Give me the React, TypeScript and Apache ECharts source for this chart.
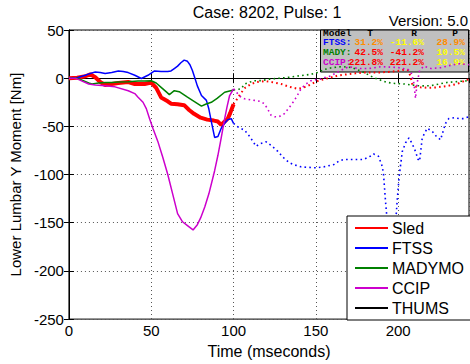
import React, { useEffect, useRef } from 'react';
import * as echarts from 'echarts';

// ---------- data ----------
const legendNames = ['Sled', 'FTSS', 'MADYMO', 'CCIP', 'THUMS'];

const sledT = [0, 5, 10, 13, 16, 19, 22, 26, 30, 36, 40, 46, 50, 53, 56, 60, 62, 66, 70, 73, 76, 80, 84, 88, 90.5, 92.5, 94, 96.5, 98, 100];
const sledV = [0, 0.5, 2, 4, 1, -4, -7, -6, -5, -4, -6, -6, -4.5, -10, -20, -24, -26.5, -27, -28, -33, -37, -41, -43, -44, -45, -48.5, -46, -42, -36, -27];
const sledExtT = [100, 102, 104.7, 107, 110.7, 114, 118.8, 123, 128.9, 134, 139, 142, 145, 151, 155, 159, 164, 169, 174, 179, 184, 189, 194, 199.5, 204, 206, 207.5, 208.5, 211, 213.5, 218, 223.7, 230, 235.7, 240, 243];
const sledExtV = [-27, -22, -15, -10, -6, -4, -3, -4, -6, -9, -11, -10, -8, -3, -1, 0.7, 3, 4, 5, 6, 6, 6, 6.5, 7.5, 9, 8, 2, -6, -9, -9.5, -10, -9.5, -8, -6, -3, -1];

const ftssT = [0, 5, 10, 13, 16, 19, 22, 26, 30, 33, 36, 40, 44, 48, 52, 56, 60, 62, 64, 66, 68, 70, 72, 73.5, 75, 76.4, 78, 80.5, 83.5, 85, 86.5, 88.5, 90.5, 92.5, 94.5, 96.6, 98.6, 100];
const ftssV = [0, 0.5, 3, 5, 6.4, 6, 4.8, 6, 7.5, 7, 5.8, 3, -0.3, 3, 7.5, 7, 7, 7.5, 10, 12.5, 16, 18.7, 17.5, 14, 8, 0.7, -8, -18, -23, -32, -45, -61.5, -60.5, -52, -47, -43, -42, -47];
const ftssExtT = [100, 103, 106.7, 110, 113.7, 116, 119.8, 123, 126.9, 130, 133.9, 137, 141, 145, 150, 155, 161, 164, 167, 172, 179, 183, 185, 188, 190, 191, 192.4, 193.4, 194.5, 195.5, 196.5, 198, 199.4, 200.5, 202.5, 204.5, 206.5, 208.5, 210.5, 212, 213, 214.6, 217.6, 220.6, 223, 225.7, 228.7, 230.7, 234, 237, 239.7, 243];
const ftssExtV = [-47, -51, -54, -61, -70.7, -68, -66, -70, -76, -82, -87.8, -90, -92, -92.5, -93, -92, -89.5, -86, -84.4, -84.4, -84.4, -81, -78.6, -81, -90, -98, -130, -150, -200, -242, -215, -160, -127, -103, -76, -67, -62, -68, -76, -84, -86, -62, -52, -55, -60, -64, -47, -42, -41, -42, -42, -40];

const madyT = [0, 5, 8, 12, 14, 18, 22, 26, 30, 36, 42, 46, 50, 53, 56, 59, 61, 64, 67, 72, 76, 80.5, 83, 86.5, 90, 94.6, 100];
const madyV = [0, 0, -2, -5, -6, -5, -4.5, -4.4, -4, -3.7, -3, -3, -2.7, -5, -9.5, -14, -17, -13, -14, -19.7, -24, -29, -27, -25, -21, -14.6, -12.2];
const madyExtT = [100, 103, 104.7, 106.7, 110, 113, 117, 122, 128, 134, 140, 147, 151, 155, 160, 166, 172, 178, 185, 190, 193.4, 198, 203.5, 208, 211.5, 216, 219.6, 225, 229.7, 236, 241.8, 243];
const madyExtV = [-12.2, -11.5, -11, -6, -4, -2.7, -2.5, -1, 0, 1, 2.5, 4, 6, 9, 11, 12, 11, 7, 0.7, -2.5, -4.4, -5.5, -6, -7, -7.8, -8, -7.8, -6, -4.4, -3.5, -2.7, -2.5];

const ccipT = [0, 4, 8, 12, 16, 22, 28, 36, 40, 42, 45, 47, 49, 51, 54, 57, 60, 63, 66, 69, 72, 75.4, 78, 80, 82.5, 85, 88.5, 90.5, 92.5, 94.6, 96, 97.6, 100];
const ccipV = [0, 0, -3, -6, -7, -7.8, -9, -13, -16, -19.7, -25, -31.6, -42, -52, -65.6, -82, -99.7, -120, -140.5, -149, -153, -157.5, -152, -145, -133.7, -120, -96, -80, -62, -42, -30, -18, -11];
const ccipExtT = [100, 102, 104, 106.7, 109, 112.7, 116, 118.8, 121, 122.8, 125, 126.9, 129, 130.9, 134, 137, 139, 141, 144, 147, 150, 153, 156, 159, 165, 170, 176, 182, 190, 200, 206, 208, 209.5, 210.5, 211.5, 213, 215.6, 220, 226, 231, 237, 243];
const ccipExtV = [-11, -15, -19, -21.4, -22, -23, -24, -26.5, -33, -38.5, -40, -40, -39, -36.7, -30, -23, -17, -11, -6, -2.7, -1.5, -1, 1, 2.3, 8, 12, 10, 10, 12, 11, 9, 5, -5, -21, -5, 8, 12.5, 10, 11, 13, 15, 14];

const thumsT: number[] = [];
const thumsV: number[] = [];

const xTicks = [0, 50, 100, 150, 200];
const yTicks = [-250, -200, -150, -100, -50, 0, 50];

const tableHeader = ['Model', 'T', 'R', 'P'];
const tableModels = ['FTSS:', 'MADY:', 'CCIP:'];
const tableT = ['31.2%', '42.5%', '221.8%'];
const tableR = ['-11.6%', '-41.2%', '221.2%'];
const tableP = ['28.9%', '10.5%', '16.9%'];

const titleText = 'Case: 8202, Pulse: 1';
const versionText = 'Version: 5.0';

// ---------- styles ----------
const RED = '#ff0000';
const BLUE = '#0000ff';
const GREEN = '#008000';
const MAG = '#cc00cc';
const ORANGE = '#ff8c00';
const YELLOW = '#ffff00';
const FONT = '"Liberation Sans", Arial, sans-serif';
const MONO = '"Liberation Mono", "Courier New", monospace';

const zip = (t: number[], v: number[]) => t.map((x, i) => [x, v[i]]);

const modelColors = [BLUE, GREEN, MAG];
const tColors = [ORANGE, RED, RED];
const rColors = [YELLOW, RED, RED];
const pColors = [ORANGE, YELLOW, YELLOW];

export default function App() {
  const ref = useRef<HTMLDivElement>(null);
  useEffect(() => {
    if (!ref.current) return;
    const chart = echarts.init(ref.current, undefined, { renderer: 'svg' });

    const solid = (name: string, t: number[], v: number[], color: string, width: number) => ({
      name,
      type: 'line',
      data: zip(t, v),
      symbol: 'none',
      smooth: false,
      xAxisIndex: 0,
      yAxisIndex: 0,
      itemStyle: { color },
      lineStyle: { color, width },
      z: 3,
    });
    const dotted = (name: string, t: number[], v: number[], color: string, width: number) => ({
      name,
      type: 'line',
      data: zip(t, v),
      symbol: 'none',
      xAxisIndex: 0,
      yAxisIndex: 0,
      itemStyle: { color },
      lineStyle: { color, width, type: [1.6, 3.2] },
      z: 3,
    });

    const rowY = [42.5, 52.7, 62.9];
    const tableTexts: any[] = [];
    const hdrX = [323, 370, 414, 455];
    tableHeader.forEach((h, i) => {
      tableTexts.push({
        type: 'text', x: hdrX[i], y: 33, z: 1,
        style: { text: h, fill: '#000', font: `bold 9.5px ${MONO}`, textAlign: i === 0 ? 'left' : 'center', textVerticalAlign: 'middle' },
      });
    });
    tableModels.forEach((m, r) => {
      const cells = [
        { text: m, x: 323, align: 'left', color: modelColors[r] },
        { text: tableT[r], x: 383, align: 'right', color: tColors[r] },
        { text: tableR[r], x: 424, align: 'right', color: rColors[r] },
        { text: tableP[r], x: 465, align: 'right', color: pColors[r] },
      ];
      cells.forEach((c) => {
        tableTexts.push({
          type: 'text', x: c.x, y: rowY[r], z: 1,
          style: { text: c.text, fill: c.color, font: `bold 9.5px ${MONO}`, textAlign: c.align, textVerticalAlign: 'middle' },
        });
      });
    });

    chart.setOption({
      animation: false,
      backgroundColor: '#fff',
      textStyle: { fontFamily: FONT },
      grid: { left: 67, top: 30, right: 1, bottom: 40, show: true, borderColor: '#000', borderWidth: 1, backgroundColor: 'transparent' },
      legend: {
        data: legendNames,
        orient: 'vertical',
        left: 347,
        top: 216,
        padding: [4, 9, 4, 7],
        itemWidth: 33,
        itemHeight: 14,
        itemGap: 4,
        backgroundColor: '#fff',
        borderColor: '#000',
        borderWidth: 1,
        itemStyle: { opacity: 0 },
        textStyle: { fontFamily: FONT, fontSize: 16, color: '#000', lineHeight: 16, padding: [0, 0, 0, -1] },
        z: 10,
      },
      xAxis: [
        {
          type: 'value', min: 0, max: 243, interval: 50, position: 'bottom',
          name: 'Time (mseconds)', nameLocation: 'middle', nameGap: 22,
          nameTextStyle: { fontFamily: FONT, fontSize: 16, color: '#000' },
          axisLine: { show: true, lineStyle: { color: '#000', width: 1 } },
          axisTick: { show: true, inside: true, length: 5, lineStyle: { color: '#000' } },
          axisLabel: {
            fontFamily: FONT, fontSize: 15, color: '#000', margin: 4, showMaxLabel: false,
            formatter: (v: number) => (xTicks.includes(v) ? String(v) : ''),
          },
          splitLine: { show: true, lineStyle: { color: '#555', type: [1, 3], width: 1 } },
        },
        {
          type: 'value', min: 0, max: 243, interval: 50, position: 'top',
          axisLine: { show: true, lineStyle: { color: '#000', width: 1 } },
          axisTick: { show: true, inside: true, length: 5, lineStyle: { color: '#000' } },
          axisLabel: { show: false },
          splitLine: { show: false },
        },
      ],
      yAxis: [
        {
          type: 'value', min: -250, max: 50, interval: 50, position: 'left',
          name: 'Lower Lumbar Y Moment [Nm]', nameLocation: 'middle', nameGap: 40,
          nameTextStyle: { fontFamily: FONT, fontSize: 15, color: '#000' },
          axisLine: { show: true, lineStyle: { color: '#000', width: 1 } },
          axisTick: { show: true, inside: true, length: 5, lineStyle: { color: '#000' } },
          axisLabel: {
            fontFamily: FONT, fontSize: 15, color: '#000', margin: 5,
            formatter: (v: number) => (yTicks.includes(v) ? String(v) : ''),
          },
          splitLine: { show: true, lineStyle: { color: '#555', type: [1, 3], width: 1 } },
        },
        {
          type: 'value', min: -250, max: 50, interval: 50, position: 'right',
          axisLine: { show: true, lineStyle: { color: '#000', width: 1 } },
          axisTick: { show: true, inside: true, length: 5, lineStyle: { color: '#000' } },
          axisLabel: { show: false },
          splitLine: { show: false },
        },
      ],
      graphic: [
        {
          type: 'text', x: 267, y: 12, z: 5,
          style: { text: titleText, fill: '#000', font: `16px ${FONT}`, textAlign: 'center', textVerticalAlign: 'middle' },
        },
        {
          type: 'text', x: 468, y: 20, z: 5,
          style: { text: versionText, fill: '#000', font: `15px ${FONT}`, textAlign: 'right', textVerticalAlign: 'middle' },
        },
        {
          type: 'rect', z: 1,
          shape: { x: 320.5, y: 30, width: 148, height: 42 },
          style: { fill: '#c0c0c0', stroke: '#000', lineWidth: 1 },
        },
        ...tableTexts,
      ],
      series: [
        solid('Sled', sledT, sledV, RED, 4),
        solid('FTSS', ftssT, ftssV, BLUE, 1.5),
        solid('MADYMO', madyT, madyV, GREEN, 1.5),
        solid('CCIP', ccipT, ccipV, MAG, 1.5),
        solid('THUMS', thumsT, thumsV, '#000', 1.5),
        dotted('Sled ext', sledExtT, sledExtV, RED, 2),
        dotted('FTSS ext', ftssExtT, ftssExtV, BLUE, 1.6),
        dotted('MADYMO ext', madyExtT, madyExtV, GREEN, 1.6),
        dotted('CCIP ext', ccipExtT, ccipExtV, MAG, 1.6),
      ],
    });
    return () => chart.dispose();
  }, []);
  return <div ref={ref} style={{ position: 'fixed', left: 0, top: 0, width: 470, height: 364 }} />;
}
